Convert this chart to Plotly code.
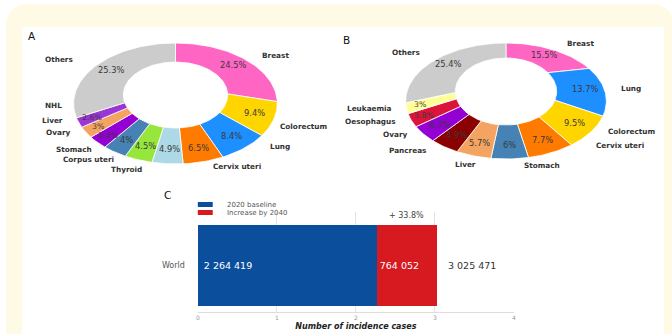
import numpy as np
import plotly.graph_objects as go

W, H = 672, 335

# ---------------- data ----------------
inc_labels = ["Breast", "Colorectum", "Lung", "Cervix uteri", "Thyroid", "Corpus uteri",
              "Stomach", "Ovary", "Liver", "NHL", "Others"]
inc_pct = [24.5, 9.4, 8.4, 6.5, 4.9, 4.5, 4.0, 3.4, 3.0, 2.6, 25.3]

mort_labels = ["Breast", "Lung", "Colorectum", "Cervix uteri", "Stomach", "Liver",
               "Pancreas", "Ovary", "Oesophagus", "Leukaemia", "Others"]
mort_pct = [15.5, 13.7, 9.5, 7.7, 6.0, 5.7, 4.9, 4.7, 3.8, 3.0, 25.4]

regions = ["World"]
baseline_2020 = [2264419]
increase_2040 = [764052]
total_2040 = [3025471]
increase_pct = [33.8]
x_ticks = [0, 1, 2, 3, 4]

# ---------------- styles ----------------
inc_colors = ["#ff66c4", "#ffd500", "#1e8fff", "#ff7b00", "#add8e6", "#96e63c",
              "#4682b4", "#9400d3", "#f4a460", "#9b35d6", "#cccccc"]
mort_colors = ["#ff66c4", "#1e8fff", "#ffd500", "#ff7b00", "#4682b4", "#f4a460",
               "#8b0000", "#9400d3", "#dc143c", "#ffff99", "#cccccc"]

GEO_A = dict(cx=174.5, cy=103.5, rx=102.5, ry=60.5, icx=174.5, icy=95, irx=52.5, iry=33)
GEO_B = dict(cx=507, cy=101, rx=101, ry=58, icx=507, icy=91.5, irx=51, iry=33.5)

# outside label placement (ellipse units relative to centre, anchor side)
LAB_A = [(0.834, -0.80, "left"), (1.01, 0.38, "left"), (0.912, 0.714, "left"),
         (0.346, 1.045, "left"), (-0.307, 1.088, "right"), (-0.58, 0.93, "right"),
         (-0.795, 0.76, "right"), (-1.02, 0.48, "right"), (-1.088, 0.284, "right"),
         (-1.098, 0.04, "right"), (-0.99, -0.72, "right")]
LAB_B = [(0.584, -0.995, "left"), (1.129, -0.219, "left"), (1.0, 0.529, "left"),
         (0.881, 0.77, "left"), (0.158, 1.115, "left"), (-0.277, 1.103, "right"),
         (-0.772, 0.845, "right"), (-0.97, 0.586, "right"), (-1.079, 0.357, "right"),
         (-1.119, 0.126, "right"), (-0.832, -0.833, "right")]

FONT = "DejaVu Sans"
BLUE = "#0b4f9c"
RED = "#d61a1f"
CREAM = "#fffae6"


def pxx(x):
    return x / W


def pxy(y):
    return 1 - y / H


fig = go.Figure()
annotations = []


def add_donut(values, labels, colors, g, lab_pos):
    cum = np.concatenate([[0], np.cumsum(values)])
    n = len(values)
    for i in range(n):
        a0 = cum[i] / 100 * 360
        a1 = 360 if i == n - 1 else cum[i + 1] / 100 * 360
        m = max(10, int((a1 - a0) / 1.5) + 2)
        t = np.radians(np.linspace(a0, a1, m))
        xo = g["cx"] + g["rx"] * np.sin(t)
        yo = g["cy"] - g["ry"] * np.cos(t)
        xi = g["icx"] + g["irx"] * np.sin(t[::-1])
        yi = g["icy"] - g["iry"] * np.cos(t[::-1])
        xs = np.concatenate([xo, xi, xo[:1]])
        ys = np.concatenate([yo, yi, yo[:1]])
        fig.add_trace(go.Scatter(x=xs, y=ys, mode="lines", fill="toself",
                                 fillcolor=colors[i], line=dict(color="white", width=0.8),
                                 hoverinfo="skip", showlegend=False, xaxis="x", yaxis="y"))
        # percent text in the ring
        am = np.radians((a0 + a1) / 2)
        ox = g["cx"] + g["rx"] * np.sin(am)
        oy = g["cy"] - g["ry"] * np.cos(am)
        ix = g["icx"] + g["irx"] * np.sin(am)
        iy = g["icy"] - g["iry"] * np.cos(am)
        small = values[i] < 4
        w = 0.72 if small else 0.6
        annotations.append(dict(x=ix + w * (ox - ix), y=iy + w * (oy - iy), xref="x", yref="y",
                                text=f"{values[i]:g}%", showarrow=False,
                                font=dict(family=FONT, size=7.8 if small else 8.3,
                                          color="#3a3a3a")))
        u, v, side = lab_pos[i]
        annotations.append(dict(x=g["cx"] + u * g["rx"], y=g["cy"] + v * g["ry"],
                                xref="x", yref="y", text=f"<b>{labels[i]}</b>",
                                showarrow=False, xanchor=side, yanchor="middle",
                                font=dict(family=FONT, size=7.3, color="#333333")))


add_donut(inc_pct, inc_labels, inc_colors, GEO_A, LAB_A)
add_donut(mort_pct, mort_labels, mort_colors, GEO_B, LAB_B)

# ---------------- bar chart C ----------------
def fmt(v):
    return f"{v:,}".replace(",", " ")

base_m = [v / 1e6 for v in baseline_2020]
inc_m = [v / 1e6 for v in increase_2040]

fig.add_trace(go.Bar(y=regions, x=base_m, orientation="h", marker=dict(color=BLUE, line=dict(width=0)),
                     width=0.81, text=[fmt(v) for v in baseline_2020], textposition="inside",
                     insidetextanchor="start", constraintext="none", textangle=0,
                     texttemplate=" %{text}",
                     textfont=dict(family=FONT, size=9.5, color="white"),
                     name="2020 baseline", showlegend=False, hoverinfo="skip",
                     xaxis="x2", yaxis="y2"))
fig.add_trace(go.Bar(y=regions, x=inc_m, orientation="h", marker=dict(color=RED, line=dict(width=0)),
                     width=0.81, text=[fmt(v) for v in increase_2040], textposition="inside",
                     insidetextanchor="start", constraintext="none", textangle=0,
                     textfont=dict(family=FONT, size=9.5, color="white"),
                     name="Increase by 2040", showlegend=False, hoverinfo="skip",
                     xaxis="x2", yaxis="y2"))

for r, b, i, tot, pct in zip(regions, base_m, inc_m, total_2040, increase_pct):
    annotations.append(dict(x=b + i, y=r, xref="x2", yref="y2", text=fmt(tot), showarrow=False,
                            xanchor="left", xshift=9,
                            font=dict(family=FONT, size=9.5, color="#333333")))
    annotations.append(dict(x=b + i / 2, y=0.405, xref="x2", yref="y2", text=f"+ {pct:g}%",
                            showarrow=False, yanchor="bottom", yshift=3,
                            font=dict(family=FONT, size=8, color="#444444")))

# manual legend
leg_items = [("2020 baseline", BLUE), ("Increase by 2040", RED)]
shapes = [
    dict(type="path", xref="paper", yref="paper", layer="below",
         path=(f"M{pxx(4)},{pxy(334)} L{pxx(4)},{pxy(28)} "
               f"Q{pxx(4)},{pxy(4)} {pxx(28)},{pxy(4)} L{pxx(652)},{pxy(4)} "
               f"Q{pxx(676)},{pxy(4)} {pxx(676)},{pxy(28)} L{pxx(676)},{pxy(334)} Z"),
         fillcolor=CREAM, line=dict(width=0)),
    dict(type="rect", xref="paper", yref="paper", layer="below",
         x0=pxx(20), x1=pxx(666), y0=pxy(336), y1=pxy(27),
         fillcolor="white", line=dict(width=0)),
]
for k, (name, col) in enumerate(leg_items):
    yc = 204.5 + k * 8
    shapes.append(dict(type="rect", xref="x", yref="y", x0=197, x1=212, y0=yc - 2.5, y1=yc + 2.5,
                       fillcolor=col, line=dict(width=0)))
    annotations.append(dict(x=224, y=yc, xref="x", yref="y", text=name, showarrow=False,
                            xanchor="left", yanchor="middle",
                            font=dict(family=FONT, size=7, color="#555555")))

# panel letters
for letter, (lx, ly) in zip(["A", "B", "C"], [(30, 36), (347, 40), (166, 195)]):
    annotations.append(dict(x=lx, y=ly, xref="x", yref="y", text=letter, showarrow=False,
                            font=dict(family=FONT, size=10.5, color="#111111")))

fig.update_layout(
    width=W, height=H, margin=dict(l=0, r=0, t=0, b=0),
    paper_bgcolor="white", plot_bgcolor="rgba(0,0,0,0)",
    barmode="stack", showlegend=False,
    xaxis=dict(domain=[0, 1], range=[0, W], visible=False, fixedrange=True),
    yaxis=dict(domain=[0, 1], range=[H, 0], visible=False, fixedrange=True),
    xaxis2=dict(domain=[pxx(197), pxx(515)], range=[0, 4], anchor="y2",
                tickvals=x_ticks, showgrid=True, gridcolor="#e3e3e3", gridwidth=1,
                zeroline=False, showline=True, linecolor="#dddddd", linewidth=1,
                ticks="", tickfont=dict(family=FONT, size=6, color="#999999"),
                title=dict(text="<b><i>Number of incidence cases</i></b>", standoff=3,
                           font=dict(family=FONT, size=8, color="#222222"))),
    yaxis2=dict(domain=[pxy(312), pxy(212)], range=[-0.465, 0.535], anchor="x2",
                type="category", showgrid=False, zeroline=False, showline=False,
                ticks="", ticklabelstandoff=12,
                tickfont=dict(family=FONT, size=8, color="#555555")),
    shapes=shapes, annotations=annotations,
)

fig.write_html("out.html")
